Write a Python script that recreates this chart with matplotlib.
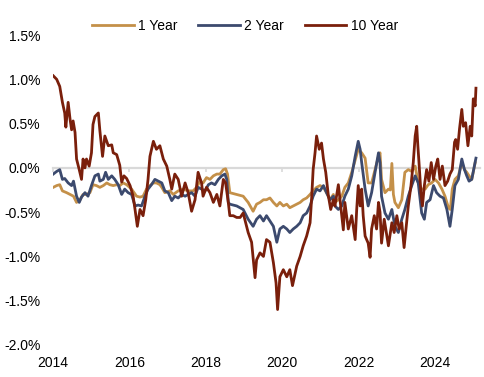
import matplotlib
matplotlib.use("Agg")
import matplotlib.pyplot as plt
from matplotlib.ticker import FuncFormatter

# decimal years / spread in percentage points
t_1y = [2014.01, 2014.10, 2014.18, 2014.25, 2014.36, 2014.45, 2014.54, 2014.62, 2014.71, 2014.79,
        2014.88, 2014.97, 2015.05, 2015.14, 2015.23, 2015.32, 2015.41, 2015.49, 2015.58, 2015.67,
        2015.75, 2015.84, 2015.93, 2016.06, 2016.19, 2016.28, 2016.36, 2016.45, 2016.54, 2016.63,
        2016.71, 2016.80, 2016.85, 2016.93, 2017.06, 2017.15, 2017.28, 2017.41, 2017.54, 2017.67,
        2017.76, 2017.85, 2017.93, 2018.02, 2018.11, 2018.20, 2018.29, 2018.37, 2018.46, 2018.52,
        2018.57, 2018.63, 2018.81, 2018.98, 2019.11, 2019.24, 2019.33, 2019.42, 2019.51, 2019.59,
        2019.68, 2019.77, 2019.86, 2019.94, 2020.03, 2020.12, 2020.20, 2020.29, 2020.38, 2020.47,
        2020.55, 2020.64, 2020.73, 2020.81, 2020.90, 2020.99, 2021.08, 2021.16, 2021.25, 2021.34,
        2021.38, 2021.47, 2021.56, 2021.64, 2021.73, 2021.82, 2021.91, 2021.99, 2022.08, 2022.17,
        2022.25, 2022.34, 2022.43, 2022.52, 2022.56, 2022.60, 2022.69, 2022.78, 2022.83, 2022.87,
        2022.91, 2022.95, 2023.04, 2023.13, 2023.21, 2023.30, 2023.39, 2023.48, 2023.56, 2023.65,
        2023.74, 2023.82, 2023.91, 2024.00, 2024.09, 2024.18, 2024.26, 2024.35, 2024.40, 2024.45,
        2024.52, 2024.61, 2024.70, 2024.77, 2024.83, 2024.89, 2024.96, 2025.05]
v_1y = [-0.22, -0.20, -0.19, -0.26, -0.28, -0.30, -0.32, -0.39, -0.36, -0.30,
        -0.30, -0.28, -0.19, -0.20, -0.22, -0.20, -0.17, -0.19, -0.20, -0.19,
        -0.20, -0.17, -0.19, -0.24, -0.32, -0.33, -0.32, -0.24, -0.20, -0.17,
        -0.17, -0.19, -0.22, -0.28, -0.26, -0.30, -0.26, -0.24, -0.26, -0.26,
        -0.22, -0.15, -0.17, -0.11, -0.13, -0.09, -0.07, -0.07, -0.02, -0.01,
        -0.07, -0.28, -0.30, -0.32, -0.39, -0.49, -0.41, -0.39, -0.36, -0.36,
        -0.34, -0.39, -0.43, -0.39, -0.43, -0.41, -0.45, -0.43, -0.41, -0.39,
        -0.36, -0.34, -0.30, -0.26, -0.22, -0.20, -0.22, -0.28, -0.36, -0.30,
        -0.39, -0.36, -0.32, -0.22, -0.17, -0.05, 0.09, 0.21, 0.17, 0.11,
        -0.17, -0.17, -0.02, 0.13, 0.17, -0.13, -0.28, -0.24, -0.25, 0.05,
        -0.30, -0.39, -0.45, -0.36, -0.05, -0.02, -0.04, 0.02, -0.17, -0.24,
        -0.24, -0.19, -0.17, -0.13, -0.17, -0.24, -0.32, -0.45, -0.47, -0.24,
        -0.13, -0.09, 0.06, -0.02, -0.05, -0.09, -0.13, 0.06]

t_2y = [2014.01, 2014.10, 2014.18, 2014.25, 2014.31, 2014.40, 2014.49, 2014.54, 2014.62, 2014.69,
        2014.75, 2014.84, 2014.92, 2015.01, 2015.10, 2015.19, 2015.23, 2015.32, 2015.38, 2015.45,
        2015.54, 2015.62, 2015.71, 2015.80, 2015.88, 2015.97, 2016.06, 2016.15, 2016.23, 2016.32,
        2016.41, 2016.49, 2016.58, 2016.67, 2016.76, 2016.85, 2016.93, 2017.02, 2017.11, 2017.19,
        2017.28, 2017.37, 2017.46, 2017.54, 2017.63, 2017.72, 2017.80, 2017.89, 2017.98, 2018.07,
        2018.15, 2018.24, 2018.33, 2018.42, 2018.50, 2018.55, 2018.59, 2018.63, 2018.81, 2018.98,
        2019.11, 2019.24, 2019.33, 2019.42, 2019.51, 2019.59, 2019.68, 2019.77, 2019.86, 2019.94,
        2020.03, 2020.12, 2020.20, 2020.29, 2020.38, 2020.47, 2020.55, 2020.64, 2020.73, 2020.81,
        2020.90, 2020.99, 2021.08, 2021.16, 2021.25, 2021.34, 2021.38, 2021.47, 2021.56, 2021.64,
        2021.73, 2021.82, 2021.91, 2021.99, 2022.04, 2022.08, 2022.17, 2022.25, 2022.34, 2022.43,
        2022.52, 2022.56, 2022.60, 2022.69, 2022.78, 2022.87, 2022.95, 2023.04, 2023.13, 2023.21,
        2023.30, 2023.39, 2023.48, 2023.56, 2023.65, 2023.72, 2023.78, 2023.87, 2023.96, 2024.04,
        2024.13, 2024.22, 2024.31, 2024.39, 2024.45, 2024.52, 2024.61, 2024.70, 2024.77, 2024.83,
        2024.89, 2024.96, 2025.03, 2025.07]
v_2y = [-0.07, -0.04, -0.02, -0.13, -0.12, -0.17, -0.20, -0.15, -0.32, -0.39,
        -0.33, -0.28, -0.32, -0.20, -0.09, -0.07, -0.15, -0.13, -0.05, -0.13,
        -0.09, -0.13, -0.19, -0.30, -0.24, -0.28, -0.30, -0.43, -0.42, -0.43,
        -0.32, -0.24, -0.19, -0.13, -0.15, -0.17, -0.26, -0.28, -0.37, -0.32,
        -0.34, -0.30, -0.32, -0.30, -0.28, -0.32, -0.22, -0.24, -0.26, -0.19,
        -0.17, -0.19, -0.13, -0.09, -0.07, -0.13, -0.39, -0.41, -0.43, -0.47,
        -0.58, -0.66, -0.58, -0.54, -0.60, -0.54, -0.60, -0.66, -0.84, -0.69,
        -0.66, -0.69, -0.73, -0.69, -0.66, -0.62, -0.54, -0.51, -0.43, -0.32,
        -0.24, -0.26, -0.20, -0.28, -0.36, -0.32, -0.43, -0.47, -0.43, -0.32,
        -0.24, -0.09, 0.13, 0.30, 0.21, 0.06, -0.24, -0.43, -0.28, -0.05,
        0.17, 0.06, -0.32, -0.51, -0.58, -0.47, -0.66, -0.73, -0.58, -0.47,
        -0.32, -0.20, -0.09, -0.17, -0.51, -0.58, -0.39, -0.36, -0.20, -0.28,
        -0.32, -0.34, -0.47, -0.66, -0.47, -0.20, -0.13, 0.10, -0.02, -0.09,
        -0.15, -0.13, 0.02, 0.11]

t_10y = [2014.01, 2014.10, 2014.18, 2014.25, 2014.31, 2014.34, 2014.40, 2014.45, 2014.49, 2014.53,
         2014.58, 2014.62, 2014.69, 2014.75, 2014.79, 2014.84, 2014.88, 2014.95, 2015.01, 2015.05,
         2015.10, 2015.19, 2015.23, 2015.30, 2015.36, 2015.45, 2015.54, 2015.58, 2015.67, 2015.75,
         2015.80, 2015.86, 2015.93, 2016.02, 2016.10, 2016.15, 2016.21, 2016.28, 2016.36, 2016.43,
         2016.49, 2016.54, 2016.63, 2016.71, 2016.80, 2016.89, 2016.98, 2017.06, 2017.11, 2017.19,
         2017.28, 2017.37, 2017.46, 2017.54, 2017.63, 2017.72, 2017.80, 2017.89, 2017.93, 2018.02,
         2018.11, 2018.20, 2018.29, 2018.37, 2018.46, 2018.52, 2018.59, 2018.63, 2018.72, 2018.81,
         2018.90, 2018.98, 2019.11, 2019.20, 2019.29, 2019.33, 2019.42, 2019.51, 2019.59, 2019.68,
         2019.77, 2019.84, 2019.88, 2019.94, 2020.03, 2020.12, 2020.20, 2020.27, 2020.38, 2020.47,
         2020.55, 2020.64, 2020.73, 2020.77, 2020.81, 2020.86, 2020.90, 2020.97, 2021.03, 2021.08,
         2021.14, 2021.21, 2021.27, 2021.34, 2021.38, 2021.47, 2021.56, 2021.60, 2021.64, 2021.73,
         2021.82, 2021.91, 2021.95, 2021.99, 2022.04, 2022.08, 2022.12, 2022.17, 2022.25, 2022.30,
         2022.34, 2022.41, 2022.47, 2022.52, 2022.56, 2022.60, 2022.67, 2022.74, 2022.78, 2022.87,
         2022.93, 2023.00, 2023.06, 2023.13, 2023.19, 2023.24, 2023.30, 2023.37, 2023.43, 2023.48,
         2023.52, 2023.55, 2023.58, 2023.63, 2023.67, 2023.72, 2023.78, 2023.84, 2023.90, 2023.96,
         2024.02, 2024.07, 2024.13, 2024.19, 2024.26, 2024.33, 2024.39, 2024.45, 2024.51, 2024.54,
         2024.59, 2024.64, 2024.70, 2024.74, 2024.80, 2024.86, 2024.92, 2024.96, 2025.00, 2025.05,
         2025.07]
v_10y = [1.04, 1.00, 0.92, 0.74, 0.62, 0.46, 0.74, 0.55, 0.43, 0.53,
         0.40, 0.10, -0.02, -0.13, 0.10, 0.00, 0.10, 0.02, 0.17, 0.49,
         0.58, 0.62, 0.42, 0.13, 0.36, 0.25, 0.26, 0.17, 0.15, 0.03,
         -0.16, -0.09, -0.12, -0.20, -0.32, -0.47, -0.66, -0.47, -0.54, -0.36,
         -0.13, 0.13, 0.30, 0.21, 0.25, 0.10, 0.02, -0.13, -0.24, -0.07,
         -0.13, -0.32, -0.17, -0.28, -0.49, -0.36, -0.05, -0.17, -0.32, -0.22,
         -0.28, -0.39, -0.30, -0.43, -0.13, -0.17, -0.39, -0.54, -0.54, -0.56,
         -0.56, -0.51, -0.73, -0.84, -1.24, -1.04, -0.96, -1.00, -0.81, -0.84,
         -1.07, -1.30, -1.60, -1.23, -1.15, -1.23, -1.15, -1.33, -1.11, -1.00,
         -0.88, -0.77, -0.62, -0.35, -0.02, 0.17, 0.36, 0.21, 0.28, 0.10,
         -0.05, -0.32, -0.47, -0.36, -0.43, -0.19, -0.54, -0.70, -0.39, -0.69,
         -0.54, -0.81, -0.47, -0.20, -0.43, -0.24, -0.54, -0.77, -0.85, -1.01,
         -0.69, -0.54, -0.69, -0.39, -0.50, -0.85, -0.58, -0.77, -0.88, -0.62,
         -0.73, -0.54, -0.69, -0.62, -0.90, -0.69, -0.43, -0.20, 0.06, 0.36,
         0.47, 0.25, 0.06, -0.28, -0.43, -0.20, -0.02, -0.15, 0.06, -0.13,
         0.02, 0.10, -0.13, 0.02, -0.20, -0.15, -0.07, -0.02, 0.29, 0.32,
         0.21, 0.44, 0.66, 0.47, 0.51, 0.25, 0.47, 0.36, 0.78, 0.70,
         0.90]

year_ticks = [2014, 2016, 2018, 2020, 2022, 2024]
series = [("1 Year", t_1y, v_1y, "#C49049"),
          ("2 Year", t_2y, v_2y, "#3C4A6E"),
          ("10 Year", t_10y, v_10y, "#7A1F0B")]

plt.rcParams["font.family"] = ["Liberation Sans", "DejaVu Sans"]

fig = plt.figure(figsize=(4.85, 3.77), dpi=100)
ax = fig.add_axes([0.109, 0.085, 0.881, 0.822])

for name, t, v, col in series:
    ax.plot(t, v, color=col, lw=2.0, label=name, zorder=3)

ax.set_xlim(2014, 2025.18)
ax.set_ylim(-2.0, 1.5)
ax.set_yticks([-2.0, -1.5, -1.0, -0.5, 0.0, 0.5, 1.0, 1.5])
ax.yaxis.set_major_formatter(FuncFormatter(lambda v, p: f"{v:.1f}%"))
ax.tick_params(axis="y", length=0, pad=9, labelsize=10, colors="#000000")

# horizontal axis runs through zero, labels sit at the bottom
for s in ["top", "right", "left"]:
    ax.spines[s].set_visible(False)
ax.spines["bottom"].set_position(("data", 0))
ax.spines["bottom"].set_color("#D9D9D9")
ax.spines["bottom"].set_linewidth(1.6)
ax.set_xticks(year_ticks)
ax.tick_params(axis="x", length=3, width=1.2, color="#D9D9D9", labelbottom=False)

sec = ax.secondary_xaxis("bottom")
sec.set_xticks(year_ticks)
sec.set_xticklabels([str(y) for y in year_ticks])
sec.spines["bottom"].set_visible(False)
sec.tick_params(length=0, pad=8, labelsize=10)

fig.legend(loc="center", bbox_to_anchor=(0.505, 0.931), ncol=3, frameon=False,
           fontsize=10, handlelength=3.0, handletextpad=0.3, columnspacing=1.5)

fig.savefig("out.png", dpi=100)
